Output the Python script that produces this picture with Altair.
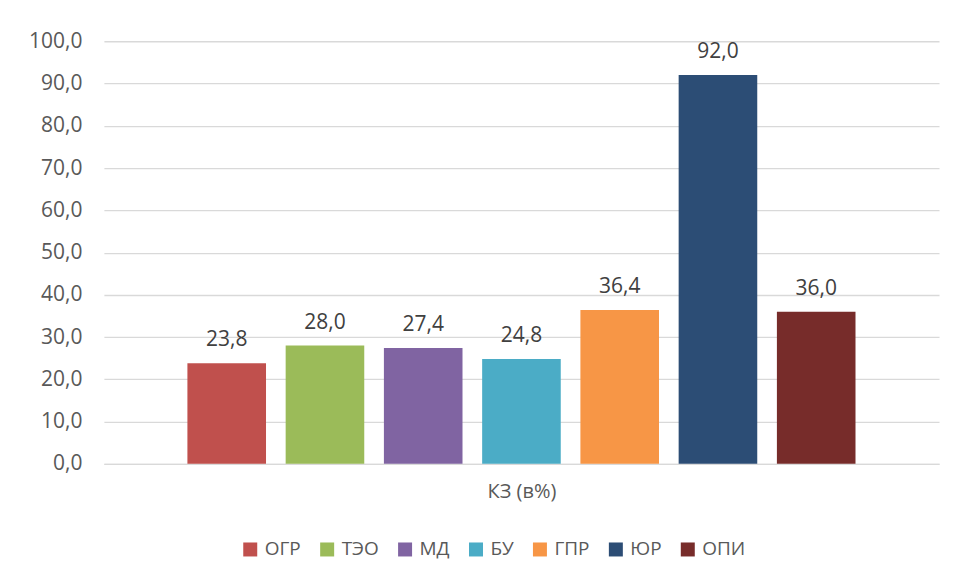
import altair as alt
import pandas as pd

series = ["ОГР", "ТЭО", "МД", "БУ", "ГПР", "ЮР", "ОПИ"]
values = [23.8, 28.0, 27.4, 24.8, 36.4, 92.0, 36.0]
colors = ["#C0504D", "#9BBB59", "#8064A2", "#4BACC6", "#F79646", "#2C4D75", "#772C2A"]
y_ticks = [0, 10, 20, 30, 40, 50, 60, 70, 80, 90, 100]
x_title = "КЗ (в%)"

df = pd.DataFrame({"series": series, "value": values})

FONT = "Open Sans"

x_enc = alt.X(
    "series:N",
    sort=series,
    scale=alt.Scale(paddingInner=0.2, paddingOuter=0.85),
    axis=alt.Axis(
        title=x_title, labels=False, ticks=False, domain=True,
        domainColor="#d9d9d9", domainWidth=1.3,
        titleFont=FONT, titleFontSize=20, titleFontWeight="normal",
        titleColor="#595959", titlePadding=18,
    ),
)
y_enc = alt.Y(
    "value:Q",
    scale=alt.Scale(domain=[0, 100], nice=False),
    axis=alt.Axis(
        title=None, values=y_ticks, ticks=False, domain=False,
        labelExpr="replace(format(datum.value, '.1f'), '.', ',')",
        labelFont=FONT, labelFontSize=21, labelColor="#595959",
        labelPadding=22, gridColor="#d9d9d9", gridWidth=1.3,
    ),
)

bars = alt.Chart(df).mark_bar().encode(
    x=x_enc,
    y=y_enc,
    color=alt.Color(
        "series:N",
        sort=series,
        scale=alt.Scale(domain=series, range=colors),
        legend=alt.Legend(
            title=None, orient="none", direction="horizontal",
            legendX=137, legendY=499,
            symbolType="square", symbolSize=196, symbolStrokeWidth=0,
            symbolOpacity=1,
            labelFont=FONT, labelFontSize=19, labelColor="#595959",
            labelOffset=5, columnPadding=16,
        ),
    ),
)

text = alt.Chart(df).transform_calculate(
    lbl="replace(format(datum.value, '.1f'), '.', ',')"
).mark_text(
    baseline="alphabetic", dy=-17, font=FONT, fontSize=21, color="#404040"
).encode(
    x=alt.X("series:N", sort=series),
    y="value:Q",
    text="lbl:N",
)

chart = alt.layer(bars, text).properties(
    width=836, height=423,
    autosize=alt.AutoSizeParams(type="none"),
    padding={"left": 96, "top": 33, "right": 10, "bottom": 110},
).configure(background="white", view=alt.ViewConfig(stroke=None))

chart.save("out.html", embed_options={"renderer": "svg", "actions": False})
